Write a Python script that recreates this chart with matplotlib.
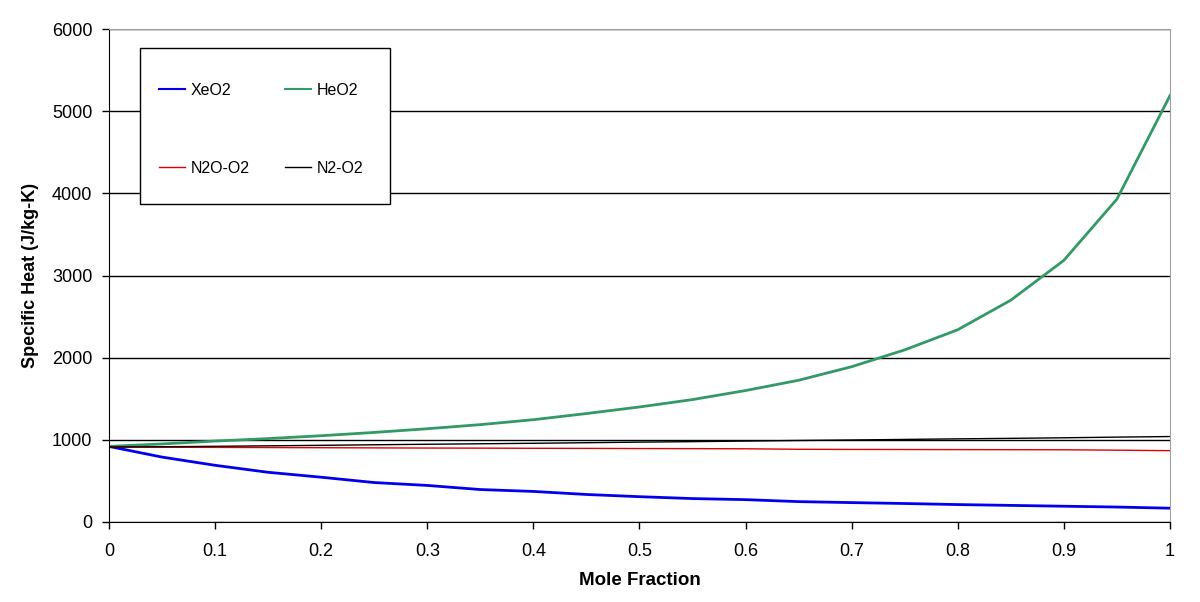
import numpy as np
import matplotlib.pyplot as plt
from matplotlib.patches import Rectangle

plt.rcParams.update({
    "font.family": ["Liberation Sans", "DejaVu Sans"],
    "font.size": 11,
})

# --- Data ---
mole_fraction = np.round(np.arange(0, 1.0001, 0.05), 2)
xeo2 = [920, 790, 690, 605, 545, 480, 445, 395, 372, 335, 308,
        285, 272, 248, 236, 225, 212, 202, 192, 182, 168]
heo2 = [920, 950, 985, 1015, 1050, 1090, 1135, 1185, 1245, 1320, 1400,
        1490, 1600, 1725, 1890, 2095, 2340, 2700, 3185, 3930, 5190]
n2o_o2 = [912, 910, 908, 906, 904, 902, 900, 899, 897, 896, 894,
          893, 891, 885, 883, 882, 881, 880, 879, 874, 868]
n2_o2 = [912, 916, 921, 927, 933, 940, 946, 952, 958, 965, 972,
         978, 985, 992, 998, 1005, 1012, 1018, 1025, 1033, 1040]

fig = plt.figure(figsize=(12, 6.02), dpi=100)
ax = fig.add_axes([0.0908, 0.1329, 0.975 - 0.0908, 0.9518 - 0.1329])

l_xe, = ax.plot(mole_fraction, xeo2, color="#0000ee", lw=2.0, label="XeO2")
l_he, = ax.plot(mole_fraction, heo2, color="#339966", lw=2.0, label="HeO2")
l_n2o, = ax.plot(mole_fraction, n2o_o2, color="#e00000", lw=1.0, label="N2O-O2")
l_n2, = ax.plot(mole_fraction, n2_o2, color="#000000", lw=1.0, label="N2-O2")

ax.set_xlim(0, 1)
ax.set_ylim(0, 6000)
ax.set_xticks(np.arange(0, 1.01, 0.1))
ax.set_xticklabels(["0", "0.1", "0.2", "0.3", "0.4", "0.5", "0.6", "0.7", "0.8", "0.9", "1"])
ax.set_yticks(np.arange(0, 6001, 1000))
ax.yaxis.grid(True, color="black", lw=1.0)
ax.set_axisbelow(True)

ax.spines["top"].set_color("#a0a0a0")
ax.spines["right"].set_color("#a0a0a0")
ax.spines["left"].set_color("black")
ax.spines["bottom"].set_color("black")
ax.tick_params(direction="out", length=5, width=1, labelsize=13)
ax.tick_params(axis="x", pad=10)
ax.tick_params(axis="y", pad=7)

ax.set_xlabel("Mole Fraction", fontsize=13.5, fontweight="bold", labelpad=9)
ax.set_ylabel("Specific Heat (J/kg-K)", fontsize=13, fontweight="bold", labelpad=9)

# legend frame drawn as its own white box, entries placed inside it
ax.add_patch(Rectangle((0.0292, 0.645), 0.2356, 0.3165, transform=ax.transAxes,
                       facecolor="white", edgecolor="black", lw=1.0, zorder=3))
leg = ax.legend([l_xe, l_n2o, l_he, l_n2], ["XeO2", "N2O-O2", "HeO2", "N2-O2"],
                ncol=2, loc="upper left", bbox_to_anchor=(0.047, 0.891),
                frameon=False, fontsize=11.5,
                handlelength=1.65, handletextpad=0.35, columnspacing=2.2,
                labelspacing=3.95, borderpad=0, borderaxespad=0)
leg.set_zorder(4)
for line in leg.get_lines():
    line.set_linewidth(1.5 if line.get_linewidth() > 1.5 else 1.0)

fig.savefig("out.png", dpi=100)
